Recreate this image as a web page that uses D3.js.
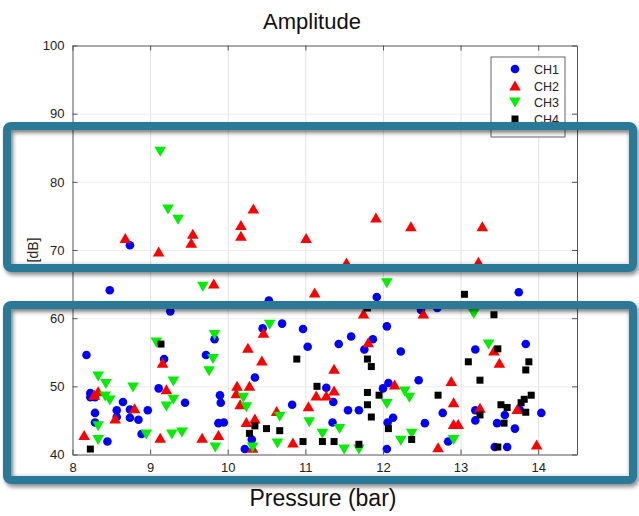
<!DOCTYPE html>
<html>
<head>
<meta charset="utf-8">
<script src="https://cdn.jsdelivr.net/npm/d3@7"></script>
<style>
html,body{margin:0;padding:0;background:#fff;}
svg{display:block;font-family:"Liberation Sans",Arial,Helvetica,sans-serif;}
</style>
</head>
<body>
<svg id="chart" width="639" height="516"></svg>
<script>
const xTicks = [8, 9, 10, 11, 12, 13, 14];
const yTicks = [40, 50, 60, 70, 80, 90, 100];
const seriesNames = ["CH1", "CH2", "CH3", "CH4"];

const ch1 = [
  [8.48,64.1],[8.74,70.7],[10.53,62.6],[9.26,61.0],[11.92,63.1],[13.75,63.8],[12.49,61.2],[12.70,61.5],
  [8.18,54.6],[8.23,49.0],[8.23,48.4],[8.29,48.4],[8.29,46.1],[8.29,44.7],[8.45,41.9],[8.57,46.5],
  [8.57,45.5],[8.65,47.7],[8.74,46.6],[8.74,45.4],[8.85,45.1],[8.89,43.0],[8.97,46.5],[9.18,54.0],
  [9.11,49.7],[9.45,47.6],[9.72,54.6],[9.83,56.9],[9.88,44.6],[9.90,48.7],[9.91,47.6],[9.95,44.7],
  [10.35,51.3],[10.45,58.5],[10.70,59.2],[10.31,42.2],[10.22,40.8],[10.83,47.3],[10.97,58.4],[11.03,55.8],
  [11.27,49.8],[11.36,47.7],[11.35,44.7],[11.43,56.2],[11.59,57.3],[11.55,46.5],[11.69,46.5],[11.76,55.4],
  [11.87,56.9],[12.00,49.7],[12.07,50.5],[12.05,58.8],[12.13,45.4],[12.06,44.7],[12.05,40.8],[12.23,55.1],
  [12.46,50.9],[12.54,44.6],[12.84,41.9],[12.77,46.1],[13.19,55.4],[13.19,46.5],[13.19,45.0],[13.47,44.6],
  [13.57,45.8],[13.44,41.1],[13.60,41.1],[13.70,43.8],[13.76,46.6],[13.84,56.2],[14.04,46.1]
];
const ch2 = [
  [8.68,71.7],[9.11,69.7],[9.55,72.3],[9.53,71.0],[10.17,73.6],[10.17,72.0],[10.33,76.0],[11.01,71.7],
  [11.91,74.7],[12.36,73.4],[13.28,73.4],[11.53,68.1],[13.23,68.2],[9.82,65.0],[11.12,63.7],[11.75,60.6],
  [12.52,60.6],
  [8.28,48.7],[8.33,49.2],[8.15,42.8],[8.55,45.2],[8.80,46.7],[9.16,53.4],[9.21,49.5],[9.13,42.4],
  [9.67,42.4],[9.88,42.8],[10.12,50.0],[10.11,48.9],[10.28,50.0],[10.16,47.3],[10.26,55.6],[10.44,53.7],
  [10.46,57.8],[10.24,44.7],[10.35,45.2],[10.32,40.9],[10.63,46.3],[10.84,41.7],[11.04,47.0],[11.14,48.6],
  [11.27,48.6],[11.37,49.3],[11.37,52.5],[11.81,56.4],[12.15,50.2],[12.71,41.0],[12.88,50.7],[12.91,47.6],
  [12.91,44.4],[12.97,44.4],[13.25,46.8],[13.43,55.2],[13.50,53.4],[13.73,46.6],[13.98,41.4]
];
const ch3 = [
  [9.13,84.5],[9.23,76.0],[9.36,74.5],[9.68,64.7],[12.05,65.2],[13.17,60.7],
  [8.33,51.5],[8.43,50.4],[8.42,48.6],[8.48,48.0],[8.33,44.2],[8.33,42.2],[8.78,49.9],[8.95,43.0],
  [9.08,56.5],[9.30,50.8],[9.30,48.1],[9.21,47.1],[9.28,43.0],[9.41,43.3],[9.84,41.1],[9.76,52.3],
  [9.83,57.6],[9.81,54.1],[10.20,48.4],[10.24,47.0],[10.54,59.1],[10.32,41.1],[10.67,45.6],[10.64,41.7],
  [11.05,44.8],[11.22,43.1],[11.44,43.8],[11.50,40.8],[11.69,40.8],[12.05,47.5],[12.28,49.3],[12.34,48.4],
  [12.23,42.1],[12.37,43.1],[12.91,42.2],[13.36,56.2]
];
const ch4 = [
  [8.23,40.8],[9.14,56.2],[10.35,44.2],[10.28,43.1],[10.50,43.8],[10.67,43.5],[10.89,54.0],[10.97,41.9],
  [11.15,50.0],[11.22,41.9],[11.37,41.9],[11.69,41.5],[11.80,54.0],[11.85,52.9],[11.80,49.1],[11.80,47.3],
  [11.85,45.5],[11.95,48.7],[12.07,43.8],[12.37,42.2],[12.71,48.7],[13.10,53.6],[13.25,50.9],[13.48,55.5],
  [13.25,45.8],[13.56,44.6],[13.52,47.3],[13.60,46.9],[13.48,41.1],[13.78,47.6],[13.82,48.1],[13.91,48.7],
  [13.84,46.2],[13.84,52.4],[13.88,53.6],[13.05,63.5],[13.43,60.5],[11.80,61.5]
];

const svg = d3.select("#chart");
const L = 72.5, R = 577, T = 45.5, B = 454.5;
const x = d3.scaleLinear().domain([8, 14.5]).range([L, R]);
const y = d3.scaleLinear().domain([40, 100]).range([B, T]);

// grid
const grid = svg.append("g").attr("class", "grid");
grid.append("g").attr("transform", `translate(0,${B})`)
  .call(d3.axisBottom(x).tickValues(xTicks.slice(1)).tickSize(-(B - T)).tickFormat(""))
  .call(g => g.select(".domain").remove())
  .call(g => g.selectAll("line").attr("stroke", "#e2e2e2").attr("stroke-width", 1));
grid.append("g").attr("transform", `translate(${L},0)`)
  .call(d3.axisLeft(y).tickValues(yTicks.slice(1, -1)).tickSize(-(R - L)).tickFormat(""))
  .call(g => g.select(".domain").remove())
  .call(g => g.selectAll("line").attr("stroke", "#ececec").attr("stroke-width", 1));

// markers
const plot = svg.append("g");
const tri = (s, up) => up
  ? `M0,${-s*0.55}L${s*0.58},${s*0.45}L${-s*0.58},${s*0.45}Z`
  : `M0,${s*0.55}L${s*0.58},${-s*0.45}L${-s*0.58},${-s*0.45}Z`;

plot.append("g").selectAll("circle").data(ch1).join("circle")
  .attr("cx", d => x(d[0])).attr("cy", d => y(d[1])).attr("r", 4.3).attr("fill", "#0000ff");
plot.append("g").selectAll("path").data(ch2).join("path")
  .attr("transform", d => `translate(${x(d[0])},${y(d[1])})`).attr("d", tri(10, true)).attr("fill", "#ff0000");
plot.append("g").selectAll("path").data(ch3).join("path")
  .attr("transform", d => `translate(${x(d[0])},${y(d[1])})`).attr("d", tri(10, false)).attr("fill", "#00ee00");
plot.append("g").selectAll("rect").data(ch4).join("rect")
  .attr("x", d => x(d[0]) - 3.5).attr("y", d => y(d[1]) - 3.5).attr("width", 7).attr("height", 7).attr("fill", "#000");

// axes
const axCol = "#555";
function styleAxis(g) {
  g.select(".domain").attr("stroke", axCol);
  g.selectAll(".tick line").attr("stroke", axCol);
  g.selectAll("text").attr("fill", "#222").style("font-size", "13px").style("font-family", '"Liberation Sans",Arial,sans-serif');
}
svg.append("g").attr("transform", `translate(0,${B})`)
  .call(d3.axisBottom(x).tickValues(xTicks).tickSizeInner(-5).tickSizeOuter(0).tickPadding(8).tickFormat(d3.format("d")))
  .call(styleAxis);
svg.append("g").attr("transform", `translate(${L},0)`)
  .call(d3.axisLeft(y).tickValues(yTicks).tickSizeInner(-5).tickSizeOuter(0).tickPadding(8).tickFormat(d3.format("d")))
  .call(styleAxis);
svg.append("g").attr("transform", `translate(0,${T})`)
  .call(d3.axisTop(x).tickValues(xTicks).tickSizeInner(-5).tickSizeOuter(0).tickFormat(""))
  .call(styleAxis);
svg.append("g").attr("transform", `translate(${R},0)`)
  .call(d3.axisRight(y).tickValues(yTicks).tickSizeInner(-5).tickSizeOuter(0).tickFormat(""))
  .call(styleAxis);

// titles
svg.append("text").attr("x", 312).attr("y", 29).attr("text-anchor", "middle")
  .style("font-size", "22px").attr("fill", "#111").text("Amplitude");
svg.append("text").attr("x", 323).attr("y", 506).attr("text-anchor", "middle")
  .style("font-size", "23px").attr("fill", "#111").text("Pressure (bar)");
svg.append("text").attr("transform", `translate(38,${(T + B) / 2}) rotate(-90)`).attr("text-anchor", "middle")
  .style("font-size", "14px").attr("fill", "#222").text("[dB]");

// legend
const lg = svg.append("g").attr("transform", "translate(491,57)");
lg.append("rect").attr("width", 74).attr("height", 80).attr("fill", "#fff").attr("stroke", "#666").attr("stroke-width", 1);
const ly = [12, 29, 45, 62];
seriesNames.forEach((n, i) => {
  const gy = ly[i];
  const m = lg.append("g").attr("transform", `translate(24,${gy})`);
  if (i === 0) m.append("circle").attr("r", 4.3).attr("fill", "#0000ff");
  if (i === 1) m.append("path").attr("d", tri(10, true)).attr("fill", "#ff0000");
  if (i === 2) m.append("path").attr("d", tri(10, false)).attr("fill", "#00ee00");
  if (i === 3) m.append("rect").attr("x", -3.5).attr("y", -3.5).attr("width", 7).attr("height", 7).attr("fill", "#000");
  lg.append("text").attr("x", 43).attr("y", gy + 4.5).style("font-size", "12.5px").attr("fill", "#222").text(n);
});

// overlay highlight boxes
const defs = svg.append("defs");
const f = defs.append("filter").attr("id", "sh").attr("x", "-5%").attr("y", "-10%").attr("width", "115%").attr("height", "130%");
f.append("feDropShadow").attr("dx", 2).attr("dy", 3).attr("stdDeviation", 2).attr("flood-color", "#000").attr("flood-opacity", 0.45);
const boxes = [[7, 126, 626, 142], [7, 305, 626, 175]];
boxes.forEach(b => {
  svg.append("rect").attr("x", b[0] + 5).attr("y", b[1] + 5).attr("width", b[2] - 10).attr("height", b[3] - 10)
    .attr("fill", "none").attr("stroke", "#000").attr("stroke-opacity", 0.06).attr("stroke-width", 3);
  svg.append("rect").attr("x", b[0]).attr("y", b[1]).attr("width", b[2]).attr("height", b[3]).attr("rx", 4)
    .attr("fill", "none").attr("stroke", "#2c7a97").attr("stroke-width", 8).attr("filter", "url(#sh)");
});
</script>
</body>
</html>
